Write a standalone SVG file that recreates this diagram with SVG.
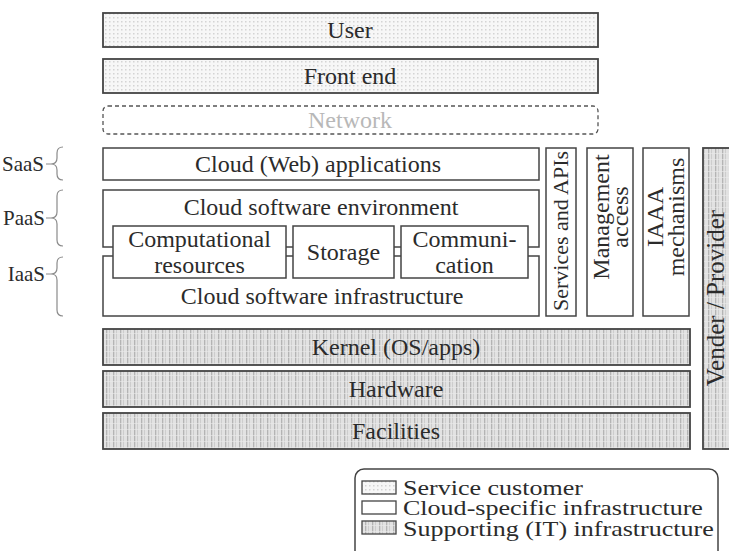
<svg xmlns="http://www.w3.org/2000/svg" width="729" height="551" viewBox="0 0 729 551">
<defs>
<pattern id="dots" width="4" height="4" patternUnits="userSpaceOnUse">
<rect width="4" height="4" fill="#f7f7f7"/>
<rect x="1" y="1" width="1.5" height="1.5" fill="#d4d4d4"/>
</pattern>
<pattern id="stripes" width="7" height="6" patternUnits="userSpaceOnUse">
<rect width="7" height="6" fill="#e2e2e2"/>
<rect x="1" y="0" width="1.3" height="6" fill="#b4b4b4"/>
<rect x="4" y="0" width="1" height="6" fill="#cdcdcd"/>
<rect x="0" y="3" width="7" height="1" fill="#ebebeb" opacity="0.6"/>
</pattern>
<style>
text{font-family:'Liberation Serif','Times New Roman',serif;fill:#2b2b2b}
.t{font-size:24px;text-anchor:middle}
.v{font-size:22px;text-anchor:middle}
.v2{font-size:24px;text-anchor:middle}
.lt{font-size:21px}
.lg{font-size:21px}
.box{fill:#fff;stroke:#444;stroke-width:1.5}
.cust{fill:url(#dots);stroke:#444;stroke-width:1.8}
.sup{fill:url(#stripes);stroke:#444;stroke-width:1.8}
.brace{fill:none;stroke:#8a8a8a;stroke-width:1.2}
</style>
</defs>

<g id="user"><rect class="cust" x="103" y="13" width="495" height="34"/><text class="t" x="350" y="38">User</text></g>
<g id="frontend"><rect class="cust" x="103" y="59" width="495" height="34"/><text class="t" x="350" y="84">Front end</text></g>
<g id="network"><rect x="103" y="106" width="495" height="28" rx="5" fill="#fff" stroke="#555" stroke-width="1.3" stroke-dasharray="4,3"/><text class="t" x="350" y="128" style="fill:#b8b8b8">Network</text></g>

<g id="saas-label"><text class="lt" x="44" y="171" text-anchor="end">SaaS</text><path class="brace" d="M46,164 L51,164 M63,147 Q57,147 57,153 L57,158 Q57,164 51,164 Q57,164 57,170 L57,174 Q57,180 63,180"/></g>
<g id="paas-label"><text class="lt" x="45" y="225" text-anchor="end">PaaS</text><path class="brace" d="M46,218 L51,218 M63,190 Q57,190 57,196 L57,212 Q57,218 51,218 Q57,218 57,224 L57,240 Q57,246 63,246"/></g>
<g id="iaas-label"><text class="lt" x="45" y="281" text-anchor="end">IaaS</text><path class="brace" d="M46,274 L51,274 M63,257 Q57,257 57,263 L57,268 Q57,274 51,274 Q57,274 57,280 L57,310 Q57,316 63,316"/></g>

<g id="webapps"><rect class="box" x="103" y="148" width="436" height="32"/><text class="t" x="318" y="172">Cloud (Web) applications</text></g>
<g id="swenv"><rect class="box" x="103" y="190" width="436" height="57"/><text class="t" x="321" y="215">Cloud software environment</text></g>
<g id="swinfra"><rect class="box" x="103" y="256" width="436" height="60"/><text class="t" x="322" y="304">Cloud software infrastructure</text></g>
<g id="compute"><rect class="box" x="113" y="226" width="173" height="52"/><text class="t" x="199.5" y="247">Computational</text><text class="t" x="199.5" y="273">resources</text></g>
<g id="storage"><rect class="box" x="293" y="226" width="101" height="52"/><text class="t" x="343.5" y="260">Storage</text></g>
<g id="communication"><rect class="box" x="401" y="226" width="127" height="52"/><text class="t" x="464.5" y="247">Communi-</text><text class="t" x="464.5" y="273">cation</text></g>

<g id="services"><rect class="box" x="546" y="148" width="30" height="168"/><text class="v" transform="translate(561,231) rotate(-90)" x="0" y="7">Services and APIs</text></g>
<g id="management"><rect class="box" x="587" y="148" width="46" height="168"/><text class="v2" transform="translate(602,217) rotate(-90)" x="0" y="7">Management</text><text class="v2" transform="translate(621,217) rotate(-90)" x="0" y="7">access</text></g>
<g id="iaaa"><rect class="box" x="643" y="148" width="46" height="168"/><text class="v2" transform="translate(656,217) rotate(-90)" x="0" y="7">IAAA</text><text class="v2" transform="translate(677,217) rotate(-90)" x="0" y="7">mechanisms</text></g>
<g id="vender"><rect class="sup" x="703" y="148" width="30" height="301"/><text class="v" style="font-size:25px" transform="translate(716,298) rotate(-90)" x="0" y="8">Vender / Provider</text></g>

<g id="kernel"><rect class="sup" x="103" y="329" width="587" height="36"/><text class="t" x="396" y="355">Kernel (OS/apps)</text></g>
<g id="hardware"><rect class="sup" x="103" y="371" width="587" height="36"/><text class="t" x="396" y="397">Hardware</text></g>
<g id="facilities"><rect class="sup" x="103" y="413" width="587" height="36"/><text class="t" x="396" y="439">Facilities</text></g>

<g id="connectors"></g>

<g id="legend">
<rect x="355" y="469" width="363" height="95" rx="9" fill="#fff" stroke="#444" stroke-width="1.5"/>
<rect class="cust" x="362" y="481" width="34" height="13" style="stroke-width:1.3"/>
<rect class="box" x="362" y="501" width="34" height="13" style="stroke-width:1.3"/>
<rect class="sup" x="362" y="521" width="34" height="13" style="stroke-width:1.3"/>
<g transform="translate(403,0) scale(1.24,1)">
<text class="lg" x="0" y="495">Service customer</text>
<text class="lg" x="0" y="515">Cloud-specific infrastructure</text>
<text class="lg" x="0" y="536">Supporting (IT) infrastructure</text>
</g>
</g>
</svg>
